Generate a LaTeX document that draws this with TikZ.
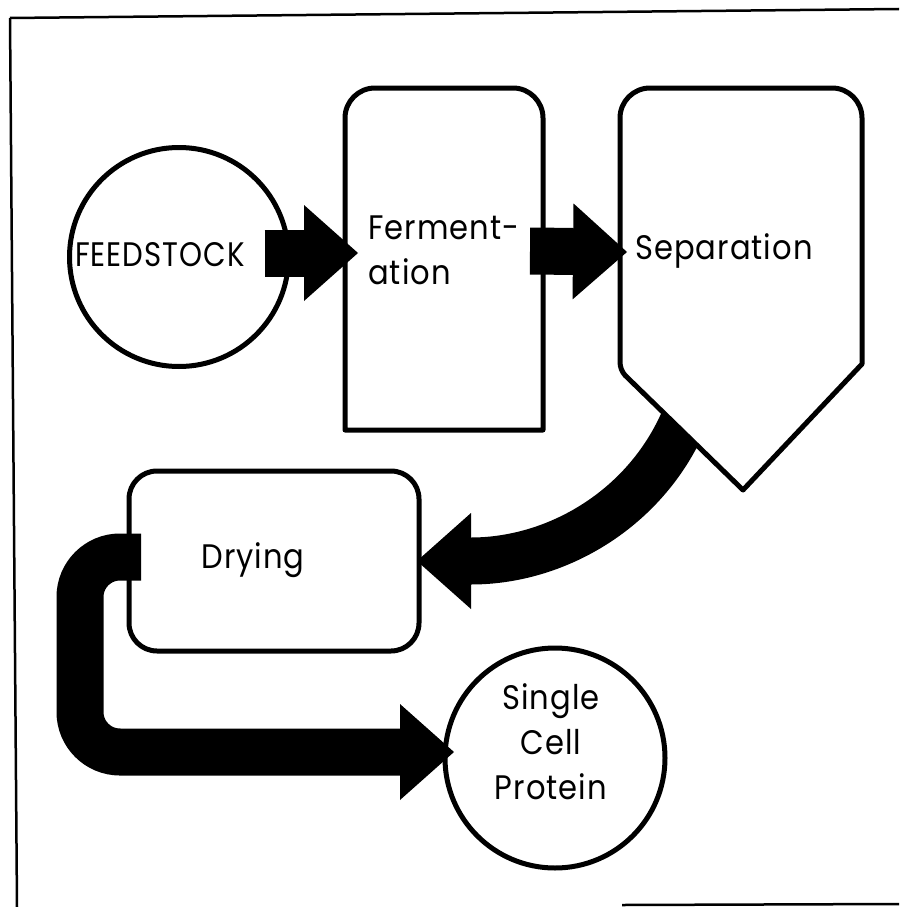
\documentclass[tikz,border=0pt]{standalone}
\usepackage{fontspec}
\newfontfamily\labfont{Poppins}[FakeStretch=0.9, LetterSpace=3]
\newfontfamily\capfont{Poppins}[FakeStretch=0.86, LetterSpace=3]
\usetikzlibrary{arrows.meta,calc}

\begin{document}
\begin{tikzpicture}[x=1pt,y=-1pt,
  outline/.style={line width=5pt, line join=round},
  frame/.style={line width=2.5pt},
  lbl/.style={font=\labfont\fontsize{34}{45}\selectfont, inner sep=0pt},
  flow/.style={line width=47pt,
    -{Triangle[length=54pt,width=96pt,line width=0pt]}},
  geo/.style={inner sep=0pt, outer sep=0pt}]
\useasboundingbox (0,0) rectangle (899,907);

% page frame
\draw[frame] (10,18) -- (899,9);
\draw[frame] (10,18) -- (17,907);
\draw[frame] (622,905) -- (899,904);

% process units
\node[draw, outline, circle, minimum size=219pt, geo] (feed) at (179,257) {};
\node[geo, minimum width=198pt, minimum height=342pt] (ferm) at (444,259) {};
\draw[outline] (345,430) -- (345,118) arc[start angle=180,end angle=270,radius=30]
  -- (513,88) arc[start angle=270,end angle=360,radius=30] -- (543,430) -- cycle;
\node[geo, minimum width=242pt, minimum height=402pt] (sep) at (741,289) {};
\node[draw, outline, rounded corners=28pt, minimum width=290pt, minimum height=180pt, geo]
  (dry) at (274,561) {};
\node[draw, outline, circle, minimum size=220pt, geo] (scp) at (555,758) {};

% separation -> drying (drawn under the separator body)
\draw[flow] (688,410) .. controls (652,505) and (560,561) .. ([shift={(-2,0)}]dry.east);

% separator body
\draw[outline, fill=white] (743,490) -- (862,364) -- (862,118)
  arc[start angle=0,end angle=-90,radius=30] -- (650,88)
  arc[start angle=270,end angle=180,radius=30] -- (620,362)
  arc[start angle=180,end angle=138,radius=20] -- cycle;

% straight flows
\draw[flow] ([shift={(-24,-4)}]feed.east) -- ([shift={(13,-6)}]ferm.west);
\draw[flow] ([shift={(-13,-8)}]ferm.east) -- ([shift={(7,-37)}]sep.west);
\draw[flow, rounded corners=40pt] ([shift={(12,-4)}]dry.west) -- (80,557) -- (80,752)
  -- ([shift={(9,-6)}]scp.west);

% labels
\node[lbl, font=\capfont\fontsize{34}{45}\selectfont] (feedlbl) at (160,255) {FEEDSTOCK};
\node[lbl, anchor=west, align=left] (fermlbl) at (368,250) {Ferment-\\ation};
\node[lbl] (seplbl) at (724,251) {Separation};
\node[lbl] (drylbl) at (253,560) {Drying};
\node[lbl, align=center] (scplbl) at (551,742) {Single\\Cell\\Protein};
\end{tikzpicture}
\end{document}
